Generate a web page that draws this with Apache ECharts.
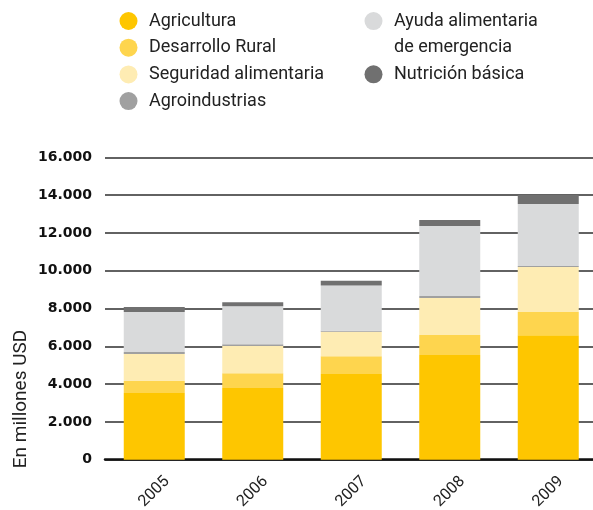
<!DOCTYPE html>
<html>
<head>
<meta charset="utf-8">
<script src="https://cdn.jsdelivr.net/npm/echarts@6/dist/echarts.min.js"></script>
<style>
    html, body { margin: 0; padding: 0; background: #fff; }
    #chart { width: 593px; height: 510px; }
</style>
</head>
<body>
<div id="chart"></div>
<script>
(function(window) {
    'use strict';

    // datos (millones USD)
    var years = ['2005', '2006', '2007', '2008', '2009'];
    var agricultura = [3530, 3790, 4530, 5540, 6590];
    var desarrolloRural = [630, 790, 950, 1060, 1220];
    var seguridadAlimentaria = [1430, 1430, 1290, 1960, 2380];
    var agroindustrias = [105, 105, 50, 105, 55];
    var ayudaEmergencia = [2115, 2010, 2400, 3700, 3280];
    var nutricionBasica = [265, 210, 250, 320, 475];

    var yTicks = [0, 2000, 4000, 6000, 8000, 10000, 12000, 14000, 16000];

    var names = {
        agri: 'Agricultura',
        rural: 'Desarrollo Rural',
        seg: 'Seguridad alimentaria',
        agro: 'Agroindustrias',
        ayuda: 'Ayuda alimentaria de emergencia',
        nutri: 'Nutrición básica'
    };

    var font = 'Roboto, "DejaVu Sans", sans-serif';

    function fmt(v) {
        return String(v).replace(/\B(?=(\d{3})+(?!\d))/g, '.');
    }

    function bar(name, data, color) {
        return {
            name: name,
            type: 'bar',
            stack: 'total',
            barWidth: 61,
            itemStyle: { color: color },
            data: data
        };
    }

    // leyenda en dos columnas
    function legend(left, top, data, extra) {
        var l = {
            left: left,
            top: top,
            orient: 'vertical',
            icon: 'circle',
            itemWidth: 31,
            itemHeight: 18,
            itemGap: 6.7,
            padding: 0,
            textStyle: { fontFamily: font, fontSize: 18, color: '#222', lineHeight: 20 },
            data: data
        };
        if (extra) {
            extra(l);
        }
        return l;
    }

    var chart = echarts.init(document.getElementById('chart'));
    var option = {
        animation: false,
        textStyle: { fontFamily: font },
        legend: [
            legend(119.5, 11, [names.agri, names.rural, names.seg, names.agro]),
            legend(364.5, -19, [names.ayuda], function(l) {
                // primera línea alineada con el icono
                l.formatter = function() {
                    return '\nAyuda alimentaria\nde emergencia';
                };
                l.textStyle.lineHeight = 26.7;
            }),
            legend(364.5, 64.3, [names.nutri])
        ],
        graphic: [{
            type: 'text',
            x: 21,
            y: 399,
            rotation: Math.PI / 2,
            style: {
                text: 'En millones USD',
                font: '19px ' + font,
                fill: '#222',
                align: 'center',
                verticalAlign: 'middle'
            }
        }],
        grid: {
            left: 105,
            top: 157.3,
            width: 492.5,
            height: 302.4,
            outerBoundsMode: 'none'
        },
        xAxis: {
            type: 'category',
            data: years,
            axisLine: { lineStyle: { color: '#111', width: 2.5 } },
            axisTick: { show: false },
            axisLabel: {
                rotate: 45,
                align: 'center',
                verticalAlign: 'middle',
                margin: 32,
                fontSize: 16,
                color: '#222',
                fontFamily: font
            }
        },
        yAxis: {
            type: 'value',
            min: yTicks[0],
            max: yTicks[yTicks.length - 1],
            interval: yTicks[1] - yTicks[0],
            axisLine: { show: false },
            axisTick: { show: false },
            splitLine: { lineStyle: { color: '#2e2e2e', width: 1.5 } },
            axisLabel: {
                margin: 13,
                fontSize: 14,
                fontWeight: 'bold',
                color: '#111',
                fontFamily: '"DejaVu Sans", sans-serif',
                formatter: fmt
            }
        },
        series: [
            bar(names.agri, agricultura, '#fec600'),
            bar(names.rural, desarrolloRural, '#fed54e'),
            bar(names.seg, seguridadAlimentaria, '#feecb3'),
            bar(names.agro, agroindustrias, '#a0a0a0'),
            bar(names.ayuda, ayudaEmergencia, '#d9dadb'),
            bar(names.nutri, nutricionBasica, '#707070')
        ]
    };
    chart.setOption(option);
})(window);
</script>
</body>
</html>
